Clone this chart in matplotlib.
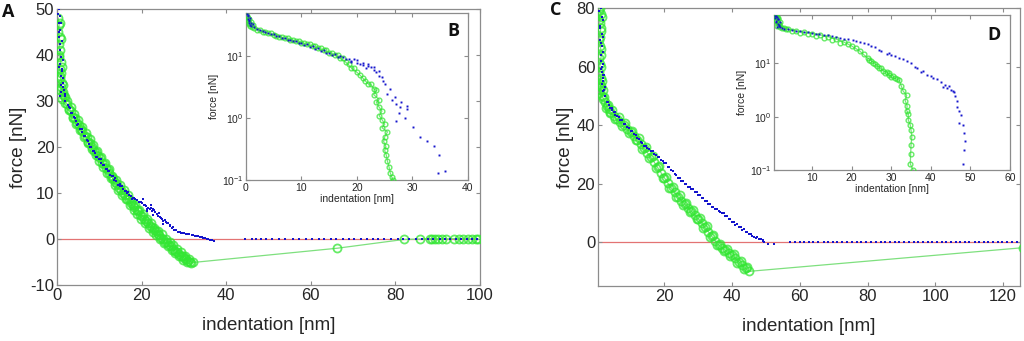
import matplotlib
matplotlib.use('Agg')
import matplotlib.pyplot as plt
import numpy as np
from matplotlib.ticker import NullLocator, FixedLocator

plt.rcParams['font.family'] = ['Liberation Sans', 'DejaVu Sans']
plt.rcParams['mathtext.default'] = 'regular'
plt.rcParams['axes.unicode_minus'] = False

# ---------- panel A : indentation curves, linear force ----------
# green trace (connected), then extra green points of the same run
a_green_x = [0.3, 0.5, 0.2, 0.6, 0.4, 0.8, 0.5, 0.9, 0.6, 1.0, 0.8, 1.2, 1.0, 1.4, 1.6,
             2.0, 2.4, 2.9, 3.3, 3.8, 4.2, 4.7, 5.1, 5.6, 6.0, 6.5, 7.0, 7.4, 7.9, 8.3,
             8.8, 9.2, 9.7, 10.1, 10.6, 11.0, 11.5, 12.0, 12.4, 12.9, 13.3, 13.8, 14.2,
             14.7, 15.1, 15.6, 16.0, 16.5, 17.0, 17.4, 17.9, 18.3, 18.8, 19.2, 19.7, 20.1,
             20.6, 21.0, 21.5, 22.0, 22.4, 22.9, 23.3, 23.8, 24.2, 24.7, 25.1, 25.6, 26.0,
             26.5, 27.0, 27.4, 27.9, 28.3, 28.8, 29.2, 29.7, 30.1, 30.6, 31.0, 31.5, 32.2,
             66.3, 82.0, 85.8, 88.2, 88.7, 89.3, 90.1, 91.0, 92.0, 93.9, 95.1, 96.0, 97.2,
             98.1, 99.0, 99.6]
a_green_y = [48.0, 46.5, 45.0, 44.0, 42.5, 41.0, 39.5, 38.5, 37.0, 36.0, 35.0, 34.0, 33.0, 32.0, 31.0,
             29.6, 29.4, 28.2, 27.9, 26.6, 26.2, 25.3, 24.8, 23.9, 23.4, 22.4, 22.2, 21.0, 20.8, 20.1,
             19.1, 18.9, 18.0, 17.6, 16.6, 16.4, 15.5, 14.9, 14.3, 13.5, 13.0, 12.4, 11.9,
             11.1, 10.6, 10.0, 9.6, 8.8, 8.6, 7.8, 7.3, 7.0, 6.2, 6.1, 5.2, 5.0,
             4.3, 4.0, 3.5, 2.9, 2.6, 1.9, 1.7, 1.0, 0.9, 0.2, 0.0, -0.7, -0.6,
             -1.3, -1.6, -2.1, -2.5, -2.8, -3.2, -3.6, -3.8, -4.2, -4.4, -4.8, -4.9, -5.1,
             -2.0, -0.1, 0.0, 0.1, 0.0, 0.1, 0.0, 0.1, 0.0, 0.1, 0.0, 0.1, 0.0,
             0.1, 0.0, 0.0]
a_green_x2 = [0.7, 0.9, 0.4, 1.1, 0.6, 1.3, 0.8, 1.5, 1.2, 1.8,
              2.3, 2.8, 3.2, 3.7, 4.1, 4.6, 5.0, 5.5, 5.9, 6.4, 6.8, 7.3, 7.7, 8.2, 8.6,
              9.1, 9.5, 10.0, 10.4, 10.9, 11.3, 11.8, 12.2, 12.7, 13.1, 13.6, 14.0, 14.5,
              14.9, 15.4, 15.8, 16.3, 16.7, 17.2, 17.6, 18.1, 18.5, 19.0, 19.4, 19.9, 20.3,
              20.8, 21.2, 21.7, 22.1, 22.6, 23.0, 23.5, 23.9, 24.4, 24.8, 25.3, 25.7, 26.2,
              26.6, 27.1, 27.5, 28.0, 28.4, 28.9, 29.3, 29.8, 30.2, 30.7, 31.1, 31.6]
a_green_y2 = [47.0, 43.5, 40.0, 37.5, 35.5, 33.5, 32.5, 31.5, 30.5, 30.8,
              30.0, 28.0, 28.6, 26.3, 27.2, 25.0, 25.8, 23.6, 24.4, 22.2, 23.0, 20.9, 21.8, 19.6, 20.4,
              18.3, 19.1, 17.0, 17.9, 15.7, 16.5, 14.4, 15.3, 13.2, 13.8, 11.8, 12.9, 10.7,
              11.7, 9.6, 10.6, 8.6, 9.5, 7.4, 8.3, 6.3, 7.3, 5.4, 6.4, 4.4, 5.5,
              3.5, 4.4, 2.5, 3.5, 1.6, 2.5, 0.8, 1.7, 0.0, 1.0, -0.8, 0.1, -1.6,
              -0.6, -2.4, -1.4, -3.1, -2.2, -3.8, -2.9, -4.6, -3.6, -5.0, -4.3, -5.3]

a_blue_x = [0.5, 0.6, 0.4, 0.7, 0.5, 0.8, 0.6, 1.0, 0.8, 1.2, 1.0, 1.5, 1.3, 0.9, 0.6, 1.1,
            2.0, 2.5, 3.0, 3.5, 4.0, 4.5, 5.0, 5.5, 6.0, 6.5, 7.0, 7.5, 8.0, 8.5, 9.0, 9.5,
            10.0, 10.5, 11.0, 11.5, 12.0, 12.5, 13.0, 13.5, 14.0, 14.5, 15.0, 15.5, 16.0, 16.5,
            17.0, 17.5, 18.0, 18.5, 19.0, 19.5, 20.0, 20.5, 21.0, 21.5, 22.0, 22.5, 23.0, 23.2,
            23.8, 24.3, 24.8, 25.5, 26.0, 26.6, 27.2, 27.7, 28.6, 29.3, 30.0, 30.8, 31.8, 32.6,
            33.4, 34.2, 35.0, 35.8, 36.6, 37.0,
            20.4, 21.3, 22.1, 22.8, 24.0, 25.1, 26.3,
            44.5, 46.2, 47.0, 48.3, 49.5, 50.8, 52.6, 54.0, 55.9, 57.3, 58.8, 60.4, 62.0,
            63.1, 64.7, 66.0, 67.5, 69.1, 70.3, 71.9, 73.2, 74.8, 76.0, 77.4, 78.9, 80.6,
            81.7, 83.3, 84.9, 86.2, 87.6, 89.0, 90.5, 91.8, 93.0, 94.4, 95.6, 96.9, 98.1, 99.4]
a_blue_y = [50.0, 48.5, 47.0, 45.5, 44.0, 42.5, 41.0, 39.5, 38.0, 36.5, 35.5, 34.0, 33.0, 32.0, 31.0, 37.0,
            30.0, 29.2, 28.4, 27.3, 26.6, 25.6, 24.9, 23.9, 23.2, 22.3, 21.6, 20.7, 20.0, 19.2, 18.6, 17.9,
            17.3, 16.5, 16.0, 15.2, 14.8, 14.0, 13.7, 12.9, 12.6, 11.8, 11.5, 10.8, 10.5, 10.0,
            9.6, 9.3, 9.0, 8.7, 8.4, 8.0, 7.8, 7.3, 7.1, 6.7, 6.5, 6.0, 6.2, 5.9,
            5.1, 4.8, 4.3, 4.1, 3.4, 3.0, 2.4, 2.0, 1.6, 1.3, 1.2, 1.0, 0.9, 0.7,
            0.6, 0.4, 0.2, -0.1, -0.3, -0.5,
            8.6, 6.0, 7.3, 5.2, 5.6, 3.2, 3.5,
            0.1, 0.1, 0.0, 0.1, 0.1, 0.0, 0.1, 0.1, 0.0, 0.1, 0.1, 0.0, 0.1,
            0.0, 0.1, 0.1, 0.0, 0.1, 0.0, 0.1, 0.0, 0.1, 0.0, 0.0, 0.1, 0.0,
            0.0, 0.1, 0.0, 0.0, 0.0, 0.1, 0.0, 0.0, 0.0, 0.1, 0.0, 0.0, 0.0, 0.0]
a_blue_x2 = [0.3, 0.9, 0.5, 1.1, 0.7, 1.3, 0.4, 1.4, 0.9, 1.7, 1.9,
             1.8, 2.8, 3.3, 4.3, 4.8, 5.8, 6.3, 7.3, 7.8, 8.8, 9.3, 10.3, 10.8, 11.8, 12.3,
             13.3, 13.8, 14.8, 15.3, 16.3, 16.8, 17.8, 18.3, 19.3, 19.8, 20.8, 21.3, 22.3,
             22.8, 23.6, 24.6, 25.1, 25.8, 26.8, 27.4, 28.2, 29.0, 29.7, 30.4, 31.2, 32.2,
             33.0, 33.8, 34.6, 35.4, 36.2]
a_blue_y2 = [49.0, 47.0, 45.0, 43.0, 41.0, 39.0, 37.5, 35.0, 33.5, 32.5, 31.5,
             31.0, 28.6, 27.3, 26.3, 24.8, 24.0, 22.4, 21.4, 19.9, 19.2, 17.9, 17.3, 16.1, 15.2, 14.7,
             13.8, 13.3, 12.0, 11.6, 10.5, 10.2, 8.6, 9.0, 8.1, 8.0, 7.5, 6.6, 6.8,
             6.6, 5.5, 4.6, 4.0, 3.8, 2.8, 2.6, 2.0, 1.5, 1.4, 1.1, 1.1, 0.8,
             0.7, 0.4, 0.3, 0.0, -0.2]

# ---------- panel B : same curves, log force ----------
b_green_x = [0.2, 0.4, 0.3, 0.6, 0.5, 0.8, 1.0, 1.5, 2.0, 3.0, 4.0, 5.0, 6.0, 7.0, 8.0, 9.0,
             10.0, 11.0, 12.0, 13.0, 14.0, 15.0, 16.0, 17.0, 18.0, 19.0, 20.0, 20.5, 21.0,
             21.5, 22.0, 22.5, 23.0, 23.5, 23.0, 24.0, 23.5, 24.0, 24.5, 24.0, 24.5, 25.0,
             24.5, 25.5, 25.0, 24.8, 25.2, 25.0, 25.3, 25.5, 25.8, 26.0, 26.3, 26.5]
b_green_y = [45, 42, 38, 35, 33, 31, 30, 29, 27, 25, 23.5, 22, 20.5, 19.5, 18.5, 17.5,
             16.5, 15.5, 14.5, 13.5, 12.5, 11.5, 10.5, 9.3, 8.0, 6.5, 5.5, 5.0, 4.5,
             4.0, 3.6, 3.5, 3.0, 2.8, 2.4, 2.0, 1.8, 1.5, 1.3, 1.1, 0.95, 0.8,
             0.7, 0.6, 0.5, 0.42, 0.35, 0.3, 0.25, 0.2, 0.16, 0.13, 0.11, 0.1]
b_green_x2 = [0.5, 0.9, 1.2, 2.5, 3.5, 4.5, 5.5, 6.5, 7.5, 8.5, 9.5, 10.5, 11.5, 12.5,
              13.5, 14.5, 15.5, 16.5, 17.5, 18.5, 19.5]
b_green_y2 = [40, 36, 32, 27, 25, 23.5, 21.5, 20.5, 19.5, 18.5, 17.5, 16.5, 15.5, 14.5,
              13.5, 12.5, 11.5, 10.3, 9.3, 7.6, 6.5]

b_blue_x = [0.2, 0.4, 0.3, 0.6, 0.5, 0.8, 0.9, 0.7, 1.5, 2.0, 3.0, 4.0, 5.0, 6.0, 7.0, 8.0,
            9.0, 10.0, 11.0, 12.0, 13.0, 14.0, 15.0, 16.0, 17.0, 18.0, 19.0, 19.5, 20.0, 20.5,
            21.0, 21.7, 22.0, 22.5, 23.0, 23.5, 24.0, 24.7, 25.0, 25.5, 26.0, 26.3, 26.8, 27.0,
            27.5, 27.0, 27.8, 28.0, 29.0, 28.6, 29.0, 30.1, 31.4, 32.6, 33.8, 34.8, 34.6, 35.8]
b_blue_y = [48, 44, 40, 37, 34, 32, 30.5, 42, 30, 28, 26, 24, 22.5, 21, 19.5, 18.5,
            17.5, 16.5, 15.5, 14.5, 13.5, 12.5, 11.5, 10.8, 10.0, 9.2, 8.5, 9.0, 7.8, 7.5,
            7.2, 6.5, 7.0, 6.8, 6.0, 5.5, 4.8, 4.0, 3.6, 2.5, 3.0, 2.0, 2.2, 1.7,
            1.2, 0.9, 1.5, 1.8, 1.6, 1.0, 1.4, 0.72, 0.5, 0.42, 0.35, 0.25, 0.13, 0.14]
b_blue_x2 = [0.3, 0.6, 0.9, 1.2, 2.5, 3.5, 4.5, 5.5, 6.5, 7.5, 8.5, 9.5, 10.5, 11.5, 12.5,
             13.5, 14.5, 15.5, 16.5, 17.5, 18.5, 19.0, 20.0, 21.0, 22.0, 23.0, 24.0, 24.5]
b_blue_y2 = [46, 38, 35, 33, 27, 24.5, 23, 21, 19.5, 18.5, 17.5, 16.2, 15.2, 14.2, 13.2,
             12.2, 11.3, 10.5, 9.8, 9.6, 9.0, 8.2, 8.6, 7.8, 7.5, 6.6, 5.8, 4.6]

# ---------- panel C : indentation curves, linear force ----------
c_green_x = [1.0, 1.3, 0.8, 1.2, 0.9, 1.1, 1.4, 1.0, 0.8, 1.2, 0.9, 1.3, 1.1, 0.7, 1.5,
             2.0, 2.5, 3.0, 3.5, 4.0, 5.0, 6.0, 7.0, 8.0, 9.0, 10.0, 11.0, 12.0, 13.0, 14.0,
             15.0, 16.0, 17.0, 18.0, 19.0, 20.0, 21.0, 22.0, 23.0, 24.0, 25.0, 26.0, 27.0,
             28.0, 29.0, 30.0, 31.0, 32.0, 33.0, 34.0, 35.0, 36.0, 37.0, 38.0, 39.0, 40.0,
             41.0, 42.0, 43.0, 44.0, 45.0, 126.0]
c_green_y = [80, 78, 76, 73, 70, 67, 64, 61, 58, 56, 54, 53, 52, 51, 50,
             49.0, 47.8, 46.5, 45.4, 44.5, 43.2, 42.0, 41.0, 40.0, 38.8, 37.5, 36.2, 35.0, 33.5, 32.0,
             30.5, 29.0, 27.3, 25.5, 23.7, 22.0, 20.2, 18.5, 17.0, 15.5, 14.2, 13.0, 11.8,
             10.5, 9.2, 8.0, 6.6, 5.0, 3.5, 2.0, 0.5, -1.0, -1.9, -2.8, -3.6, -4.5,
             -5.6, -6.8, -7.9, -9.0, -10.0, -1.9]
c_green_x2 = [0.6, 1.5, 0.9, 1.4, 0.7, 1.2, 0.8, 1.3, 0.6, 1.5, 1.2, 1.8,
              2.3, 2.8, 3.3, 3.8, 4.5, 5.5, 6.5, 7.5, 8.5, 9.5, 10.5, 11.5, 12.5, 13.5,
              14.5, 15.5, 16.5, 17.5, 18.5, 19.5, 20.5, 21.5, 22.5, 23.5, 24.5, 25.5, 26.5,
              27.5, 28.5, 29.5, 30.5, 31.5, 32.5, 33.5, 34.5, 35.5, 36.5, 37.5, 38.5, 39.5,
              40.5, 41.5, 42.5, 43.5, 44.5]
c_green_y2 = [79, 77, 75, 72, 69, 66, 63, 60, 57, 55, 53.5, 52,
              49.5, 46.0, 47.0, 44.0, 45.0, 42.0, 42.6, 39.8, 40.6, 37.2, 38.1, 34.8, 35.5, 31.8,
              32.4, 28.9, 29.4, 25.4, 26.0, 21.8, 22.4, 18.4, 19.0, 15.3, 16.0, 12.8, 13.5,
              10.3, 11.0, 7.8, 8.4, 4.8, 5.4, 1.8, 2.4, -1.1, -0.5, -3.2, -2.4, -4.8,
              -4.1, -7.0, -6.4, -9.3, -8.6]

c_blue_x = [1.2, 1.5, 1.0, 1.6, 1.3, 1.8, 1.4, 1.7, 1.5, 2.0, 1.6, 2.2, 1.1, 1.9,
            2.5, 3.0, 3.5, 4.0, 4.5, 5.0, 5.5, 6.0, 7.0, 8.0, 9.0, 10.0, 11.0, 12.0, 13.0,
            14.0, 15.0, 16.0, 17.0, 18.0, 19.0, 20.0, 21.0, 22.0, 23.0, 24.0, 25.0, 26.0,
            27.0, 28.0, 29.0, 30.0, 31.0, 32.0, 33.0, 34.0, 35.0, 36.0, 37.0, 38.0, 39.0,
            40.0, 41.0, 42.0, 43.0, 44.0, 45.0, 46.0, 47.0, 48.0, 49.0, 49.5, 50.5, 52.5,
            57.0, 58.5, 60.0, 61.2, 62.8, 64.0, 65.5, 67.0, 68.3, 69.9, 71.0, 72.6, 74.0,
            75.3, 76.9, 78.1, 79.6, 81.0, 82.4, 83.9, 85.1, 86.7, 88.0, 89.4, 90.8, 92.1,
            93.6, 95.0, 96.3, 97.8, 99.0, 100.5, 101.9, 103.2, 104.6, 106.0, 107.4, 108.7,
            110.1, 111.6, 112.9, 114.3, 115.7, 117.0, 118.4, 119.8, 121.1, 122.6, 124.0]
c_blue_y = [80, 77, 74, 71, 68, 65, 62, 60, 58, 56, 54, 52, 69, 57,
            50.0, 48.0, 47.0, 46.0, 45.0, 44.5, 43.5, 43.0, 41.8, 40.5, 39.2, 38.0, 36.8, 35.5, 34.2,
            33.0, 32.0, 31.0, 30.0, 29.0, 28.0, 27.0, 25.8, 24.5, 23.2, 22.0, 21.0, 20.0,
            19.0, 18.0, 17.0, 16.0, 15.0, 14.0, 13.0, 12.0, 11.2, 10.5, 9.8, 9.0, 8.0,
            7.0, 6.0, 5.0, 4.3, 3.5, 2.8, 2.0, 1.5, 1.0, 0.4, 0.0, -0.5, -0.5,
            0.2, 0.1, 0.2, 0.0, 0.1, 0.2, 0.0, 0.1, 0.2, 0.0, 0.1, 0.0, 0.2,
            0.1, 0.0, 0.1, 0.2, 0.0, 0.1, 0.0, 0.1, 0.2, 0.0, 0.1, 0.0, 0.1,
            0.0, 0.1, 0.2, 0.0, 0.1, 0.0, 0.1, 0.0, 0.2, 0.1, 0.0, 0.1,
            0.0, 0.1, 0.0, 0.1, 0.2, 0.0, 0.1, 0.0, 0.1, 0.0, 0.2]
c_blue_x2 = [0.8, 1.9, 1.1, 2.0, 1.5, 1.2, 1.9, 1.3, 2.1, 1.8, 2.4, 2.0,
             3.3, 4.5, 5.5, 6.5, 7.5, 8.5, 9.5, 10.5, 11.5, 12.5, 13.5, 14.5, 15.5, 16.5,
             17.5, 18.5, 19.5, 20.5, 21.5, 22.5, 23.5, 24.5, 25.5, 26.5, 27.5, 28.5, 29.5,
             30.5, 31.5, 32.5, 33.5, 34.5, 35.5, 36.5, 37.5, 38.5, 39.5, 40.5, 41.5, 42.5,
             43.5, 44.5, 45.5, 46.5, 47.5, 48.5, 49.0]
c_blue_y2 = [79, 76, 73, 70, 67, 64, 61, 59, 57, 55, 53, 51.5,
             47.9, 45.8, 44.3, 42.8, 41.7, 40.5, 38.9, 37.9, 36.5, 35.4, 33.9, 33.0, 31.8, 31.0,
             29.8, 29.0, 27.8, 27.0, 25.6, 24.4, 23.1, 22.0, 20.9, 20.0, 19.0, 18.0, 17.1,
             16.0, 15.1, 14.0, 13.1, 12.0, 11.3, 10.4, 9.9, 8.9, 8.0, 6.9, 6.1, 5.0,
             4.4, 3.4, 2.8, 1.9, 1.6, 0.9, 0.6]

# ---------- panel D : same curves, log force ----------
d_green_x = [0.8, 1.2, 0.6, 1.5, 1.0, 1.8, 1.3, 1.6, 1.1,
             2.0, 3.0, 4.0, 6.0, 8.0, 10.0, 12.0, 14.0, 16.0, 18.0, 20.0, 22.0, 24.0, 25.0,
             26.0, 27.0, 28.0, 28.8, 29.5, 30.0, 31.0, 32.0, 32.5, 33.0, 33.9, 33.5, 34.0,
             33.9, 34.3, 34.3, 34.8, 35.0, 35.2, 35.0, 34.9, 34.8, 35.5]
d_green_y = [78, 75, 72, 68, 64, 60, 56, 52, 50,
             48, 45, 43, 40, 38, 36, 34, 31.5, 28.5, 25, 21, 17, 12.5, 11,
             9.5, 8.3, 7.2, 6.9, 6.0, 5.5, 5.2, 4.8, 3.8, 3.0, 2.5, 2.0, 1.6,
             1.3, 1.1, 0.86, 0.7, 0.55, 0.42, 0.3, 0.2, 0.13, 0.1]
d_green_x2 = [0.6, 1.4, 0.9, 1.7, 2.5, 3.5, 5.0, 7.0, 9.0, 11.0, 13.0, 15.0, 17.0, 19.0,
              21.0, 23.0, 24.5, 25.5, 26.5, 27.5, 28.5, 29.5, 30.5, 31.5]
d_green_y2 = [76, 70, 62, 54, 46, 43, 40, 37, 35, 33, 30, 27, 24, 23,
              19, 14.8, 11.5, 10, 8.8, 8, 6.5, 6.5, 5.8, 5]

d_blue_x = [0.8, 1.2, 0.6, 1.5, 1.0, 1.8, 1.3, 1.6, 1.1, 2.0,
            2.5, 4.0, 6.0, 8.0, 10.0, 11.8, 14.0, 16.0, 18.0, 20.3, 22.0, 24.0, 26.0, 27.5,
            28.8, 30.0, 32.0, 34.0, 36.0, 37.4, 39.0, 40.5, 42.5, 43.0, 44.0, 45.0, 45.8,
            46.0, 46.5, 46.7, 47.0, 47.6, 47.1, 48.0, 48.3, 48.5, 48.3, 48.0]
d_blue_y = [78, 74, 70, 66, 62, 58, 54, 50, 48, 47,
            46, 43, 41, 39, 37, 36, 33.5, 31, 29, 27, 25, 22.5, 20, 17,
            15, 14.5, 12.5, 11, 8.5, 6.9, 6.0, 5.2, 4.5, 3.6, 3.5, 3.2, 2.9,
            2.4, 2.0, 1.5, 1.3, 1.07, 0.76, 0.7, 0.49, 0.35, 0.24, 0.13]
d_blue_x2 = [0.7, 1.4, 1.0, 1.7, 3.0, 5.0, 7.0, 9.0, 11.0, 13.0, 15.0, 17.0, 19.0, 21.0,
             23.0, 25.0, 27.0, 29.5, 31.0, 33.0, 35.0, 36.5, 38.0, 40.0, 41.5, 43.5, 44.5, 45.5]
d_blue_y2 = [76, 68, 60, 52, 44, 42, 40, 38, 36, 34.5, 32, 30, 28, 26,
             24, 21, 18, 15.5, 13.5, 11.8, 10, 8, 7, 5.8, 5, 3.9, 3.8, 3.0]

green_mk = '#33e633'
green_ln = '#7ee07e'
blue_mk = '#1414cc'
edge = '#8c8c8c'
txt = '#262626'
letter_font = ['Open Sans', 'DejaVu Sans']


def style(ax, tsize, lsize):
    for s in ax.spines.values():
        s.set_color(edge)
        s.set_linewidth(0.9)
    ax.tick_params(direction='in', top=True, right=True, length=3, width=0.8,
                   colors=edge, labelcolor=txt, labelsize=tsize, pad=2)
    ax.xaxis.label.set_size(lsize)
    ax.yaxis.label.set_size(lsize)


def draw_curves(ax, gx, gy, gx2, gy2, bx, by, bx2, by2, gms, gmew, bms):
    ax.plot(gx, gy, '-', color=green_ln, lw=0.9, zorder=2)
    ax.plot(gx + gx2, gy + gy2, 'o', ms=gms, mfc='none', mec=green_mk, mew=gmew,
            alpha=0.75, zorder=3)
    ax.plot(bx + bx2, by + by2, 's', ms=bms, color=blue_mk, mew=0, zorder=4)


fig = plt.figure(figsize=(10.24, 3.41), dpi=100)

# main panel A
axA = fig.add_axes([0.0557, 0.1642, 0.413, 0.8094])
axA.axhline(0, color='#e37373', lw=0.9, zorder=1)
draw_curves(axA, a_green_x, a_green_y, a_green_x2, a_green_y2,
            a_blue_x, a_blue_y, a_blue_x2, a_blue_y2, 5.8, 1.3, 2.1)
axA.set_xlim(0, 100)
axA.set_ylim(-10, 50)
axA.set_xticks([0, 20, 40, 60, 80, 100])
axA.set_yticks([-10, 0, 10, 20, 30, 40, 50])
axA.set_xlabel('indentation [nm]', labelpad=10, color=txt)
axA.set_ylabel('force [nN]', labelpad=2, color=txt)
style(axA, 12, 13.5)

# inset B
axB = fig.add_axes([0.2402, 0.4721, 0.2168, 0.4897])
draw_curves(axB, b_green_x, b_green_y, b_green_x2, b_green_y2,
            b_blue_x, b_blue_y, b_blue_x2, b_blue_y2, 3.4, 1.0, 1.4)
axB.set_yscale('log')
axB.set_xlim(0, 40)
axB.set_ylim(0.1, 50)
axB.set_xticks([0, 10, 20, 30, 40])
axB.yaxis.set_major_locator(FixedLocator([0.1, 1, 10]))
axB.yaxis.set_minor_locator(NullLocator())
axB.set_yticklabels(['$10^{-1}$', '$10^{0}$', '$10^{1}$'])
axB.set_xlabel('indentation [nm]', labelpad=1, color=txt)
axB.set_ylabel('force [nN]', labelpad=2, color=txt)
style(axB, 7.5, 7.5)

# main panel C
axC = fig.add_axes([0.584, 0.1613, 0.412, 0.8152])
axC.axhline(0, color='#e37373', lw=0.9, zorder=1)
draw_curves(axC, c_green_x, c_green_y, c_green_x2, c_green_y2,
            c_blue_x, c_blue_y, c_blue_x2, c_blue_y2, 5.8, 1.3, 2.1)
axC.set_xlim(0.4, 125)
axC.set_ylim(-15, 80)
axC.set_xticks([20, 40, 60, 80, 100, 120])
axC.set_yticks([0, 20, 40, 60, 80])
axC.set_xlabel('indentation [nm]', labelpad=10, color=txt)
axC.set_ylabel('force [nN]', labelpad=2, color=txt)
style(axC, 12, 13.5)

# inset D
axD = fig.add_axes([0.7559, 0.5015, 0.2305, 0.4545])
draw_curves(axD, d_green_x, d_green_y, d_green_x2, d_green_y2,
            d_blue_x, d_blue_y, d_blue_x2, d_blue_y2, 3.4, 1.0, 1.4)
axD.set_yscale('log')
axD.set_xlim(0.4, 60)
axD.set_ylim(0.1, 80)
axD.set_xticks([10, 20, 30, 40, 50, 60])
axD.yaxis.set_major_locator(FixedLocator([0.1, 1, 10]))
axD.yaxis.set_minor_locator(NullLocator())
axD.set_yticklabels(['$10^{-1}$', '$10^{0}$', '$10^{1}$'])
axD.set_xlabel('indentation [nm]', labelpad=1, color=txt)
axD.set_ylabel('force [nN]', labelpad=2, color=txt)
style(axD, 7.5, 7.5)

# panel letters
fig.text(0.002, 0.95, 'A', fontsize=13, fontweight='bold', family=letter_font, color='#111')
fig.text(0.437, 0.895, 'B', fontsize=13, fontweight='bold', family=letter_font, color='#111')
fig.text(0.537, 0.955, 'C', fontsize=13, fontweight='bold', family=letter_font, color='#111')
fig.text(0.964, 0.882, 'D', fontsize=13, fontweight='bold', family=letter_font, color='#111')

fig.savefig('out.png', dpi=100)
